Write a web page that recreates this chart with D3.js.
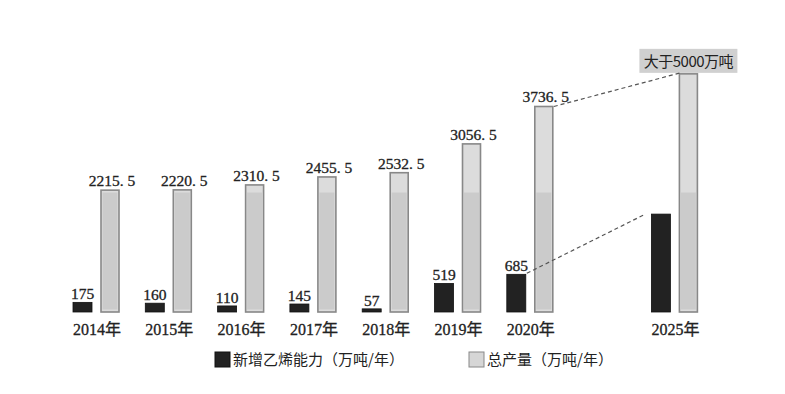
<!DOCTYPE html>
<html>
<head>
<meta charset="utf-8">
<script src="https://cdn.jsdelivr.net/npm/d3@7"></script>
<style>
  body { margin: 0; background: #fff; }
  .num { font-family: "Liberation Serif", "Noto Sans CJK SC", serif; font-size: 15.5px; fill: #222; stroke: #222; stroke-width: 0.3px; }
  .yr { font-family: "Liberation Serif", "Noto Sans CJK SC", serif; font-size: 16px; fill: #222; stroke: #222; stroke-width: 0.3px; }
  .leg { font-family: "Noto Sans CJK SC", sans-serif; font-size: 15px; fill: #222; }
</style>
</head>
<body>
<svg width="785" height="394"></svg>
<script>
var years = ["2014年", "2015年", "2016年", "2017年", "2018年", "2019年", "2020年", "2025年"];
var newCap = [175, 160, 110, 145, 57, 519, 685, 1780];          // 2025, no label
var total = [2215.5, 2220.5, 2310.5, 2455.5, 2532.5, 3056.5, 3736.5, 4330]; // 2025 drawn height
var capLabels = ["175", "160", "110", "145", "57", "519", "685", ""];
var totalLabels = ["2215. 5", "2220. 5", "2310. 5", "2455. 5", "2532. 5", "3056. 5", "3736. 5", ""];
var note2025 = "大于5000万吨";
var legendNames = ["新增乙烯能力（万吨/年）", "总产量（万吨/年）"];
var shadeLevel = 2200;

var svg = d3.select("svg");

// a blank slot leaves the gap before 2025
var slots = years.slice(0, 7).concat(["gap"], years.slice(7));
var x = d3.scaleBand().domain(slots).range([73, 73 + 9 * 72.3]);
var y = d3.scaleLinear().domain([0, 4400]).range([312, 70]);

var darkW = 19, greyW = 18, greyOff = 28;

var g = svg.append("g");

// dark bars
g.selectAll(".cap")
  .data(years)
  .enter().append("rect")
    .attr("class", "cap")
    .attr("x", function(d) { return x(d); })
    .attr("y", function(d, i) { return y(newCap[i]); })
    .attr("width", darkW)
    .attr("height", function(d, i) { return y(0) - y(newCap[i]); })
    .attr("fill", "#222")
    .attr("stroke", "#111")
    .attr("stroke-width", 0.8);

// grey bars
var gb = g.selectAll(".tot")
  .data(years)
  .enter().append("g")
    .attr("class", "tot");

gb.append("rect")
    .attr("x", function(d) { return x(d) + greyOff; })
    .attr("y", function(d, i) { return y(total[i]); })
    .attr("width", greyW)
    .attr("height", function(d, i) { return y(0) - y(total[i]); })
    .attr("fill", "#dcdcdc")
    .attr("stroke", "#888")
    .attr("stroke-width", 1.6);

gb.append("rect")
    .attr("x", function(d) { return x(d) + greyOff + 1.5; })
    .attr("y", function(d, i) { return Math.max(y(total[i]), y(shadeLevel)) + 1.5; })
    .attr("width", greyW - 3)
    .attr("height", function(d, i) { return y(0) - Math.max(y(total[i]), y(shadeLevel)) - 4; })
    .attr("fill", "#cbcbcb");

// value labels
g.selectAll(".capLab")
  .data(years)
  .enter().append("text")
    .attr("class", "num")
    .attr("x", function(d) { return x(d) + darkW / 2; })
    .attr("y", function(d, i) { return y(newCap[i]) - 3; })
    .attr("text-anchor", "middle")
    .text(function(d, i) { return capLabels[i]; });

g.selectAll(".totLab")
  .data(years)
  .enter().append("text")
    .attr("class", "num")
    .attr("x", function(d) { return x(d) + greyOff + greyW / 2 + 2; })
    .attr("y", function(d, i) { return y(total[i]) - 4; })
    .attr("text-anchor", "middle")
    .text(function(d, i) { return totalLabels[i]; });

// year labels
g.selectAll(".yr")
  .data(years)
  .enter().append("text")
    .attr("class", "yr")
    .attr("x", function(d) { return x(d) + (greyOff + greyW) / 2 + 1; })
    .attr("y", 335)
    .attr("text-anchor", "middle")
    .text(function(d) { return d; });

// 2025 note box
var last = years[7];
var bx = x(last) + greyOff + greyW / 2;
var boxW = 98, boxH = 24, boxBottom = y(total[7]) - 1;
g.append("rect")
    .attr("x", bx - boxW / 2)
    .attr("y", boxBottom - boxH)
    .attr("width", boxW)
    .attr("height", boxH)
    .attr("fill", "#d0d0d0");
g.append("text")
    .attr("class", "leg")
    .attr("x", bx)
    .attr("y", boxBottom - 6)
    .attr("text-anchor", "middle")
    .style("font-size", "15px")
    .style("letter-spacing", "-0.5px")
    .text(note2025);

// dashed connectors
var prev = years[6];
g.append("line")
    .attr("x1", x(prev) + greyOff + greyW + 1).attr("y1", y(total[6]))
    .attr("x2", bx - 8).attr("y2", boxBottom)
    .attr("stroke", "#555").attr("stroke-width", 1.2).attr("stroke-dasharray", "4,3");
g.append("line")
    .attr("x1", x(prev) + darkW + 1).attr("y1", y(newCap[6]) - 1)
    .attr("x2", x(last) - 6).attr("y2", y(newCap[7]))
    .attr("stroke", "#555").attr("stroke-width", 1.2).attr("stroke-dasharray", "4,3");

// legend
var leg = svg.append("g");
var legX = [215, 469];
var legFill = ["#222", "#d6d6d6"];
var legStroke = ["#111", "#888"];
legendNames.forEach(function(name, i) {
  leg.append("rect")
      .attr("x", legX[i]).attr("y", 352)
      .attr("width", 15).attr("height", 15)
      .attr("fill", legFill[i])
      .attr("stroke", legStroke[i]).attr("stroke-width", 1);
  leg.append("text")
      .attr("class", "leg")
      .attr("x", legX[i] + 18).attr("y", 365)
      .text(name);
});
</script>
</body>
</html>
